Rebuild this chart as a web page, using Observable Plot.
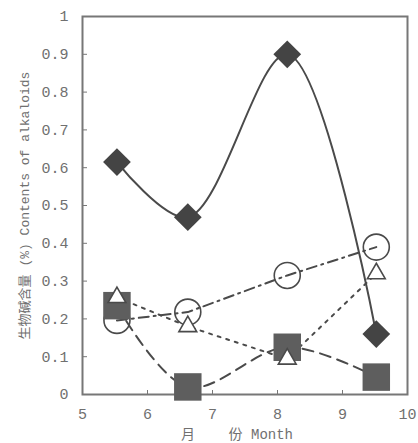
<!DOCTYPE html>
<html><head><meta charset="utf-8">
<script src="https://cdn.jsdelivr.net/npm/d3@7"></script>
<script src="https://cdn.jsdelivr.net/npm/@observablehq/plot@0.6"></script>
<style>body{margin:0;background:#fff}</style>
</head><body><div id="chart"></div>
<script>
const months = [5.53, 6.62, 8.15, 9.52];
const diamondVals = [0.615, 0.469, 0.90, 0.16];
const squareVals = [0.235, 0.02, 0.125, 0.046];
const circleVals = [0.196, 0.218, 0.315, 0.39];
const triangleVals = [0.257, 0.18, 0.094, 0.32];
const xTicks = [5, 6, 7, 8, 9, 10];
const yTicks = [0, 0.1, 0.2, 0.3, 0.4, 0.5, 0.6, 0.7, 0.8, 0.9, 1];
const yLabel = "生物碱含量 (%) Contents of alkaloids";
const xLabel = "月\u00a0\u00a0\u00a0\u00a0份 Month";

const pts = vals => months.map((m, i) => ({m, v: vals[i]}));
const ink = "#4a4a4a";
const txt = "#707070";

const chart = Plot.plot({
  width: 418, height: 443,
  marginLeft: 82, marginRight: 11, marginTop: 16, marginBottom: 49,
  style: {fontFamily: "'Liberation Mono', 'Noto Sans CJK SC', monospace", fontSize: "15px", color: txt, background: "#fff"},
  x: {domain: [5, 10]},
  y: {domain: [0, 1]},
  marks: [
    Plot.frame({stroke: "#777", strokeWidth: 2}),
    Plot.tickY(yTicks, {y: d => d, insetRight: 320, stroke: "#777"}),
    Plot.tickX(xTicks, {x: d => d, insetTop: 374, stroke: "#777"}),
    Plot.axisY({ticks: yTicks, tickSize: 0, tickPadding: 14, tickFormat: d => String(d), label: null}),
    Plot.axisX({ticks: xTicks, tickSize: 0, tickPadding: 14, tickFormat: d => String(d), label: null}),
    Plot.text([yLabel], {text: d => d, frameAnchor: "left", rotate: -90, textAnchor: "middle", dx: -58, fontSize: 13, fill: txt}),
    Plot.text([xLabel], {text: d => d, frameAnchor: "bottom", lineAnchor: "middle", dx: -8, dy: 40, fontSize: 14, fill: txt}),
    Plot.line(pts(diamondVals), {x: "m", y: "v", curve: "catmull-rom", stroke: ink, strokeWidth: 2}),
    Plot.line(pts(squareVals), {x: "m", y: "v", curve: "catmull-rom", stroke: ink, strokeWidth: 2, strokeDasharray: "11,7"}),
    Plot.line(pts(circleVals), {x: "m", y: "v", stroke: ink, strokeWidth: 2, strokeDasharray: "10,5,2,5"}),
    Plot.line(pts(triangleVals), {x: "m", y: "v", stroke: ink, strokeWidth: 2, strokeDasharray: "3,6"}),
    Plot.dot(pts(circleVals), {x: "m", y: "v", r: 13, stroke: ink, strokeWidth: 1.6, fill: "none"}),
    Plot.dot(pts(squareVals), {x: "m", y: "v", symbol: "square", r: 15.5, fill: "#5e5e5e", stroke: "none"}),
    Plot.dot(pts(triangleVals), {x: "m", y: "v", symbol: "triangle2", r: 8.5, fill: "#fff", stroke: ink, strokeWidth: 1.6}),
    Plot.dot(pts(diamondVals), {x: "m", y: "v", symbol: "diamond2", r: 12.5, fill: "#444", stroke: "none"})
  ]
});
document.getElementById("chart").append(chart);
</script>
</body></html>
